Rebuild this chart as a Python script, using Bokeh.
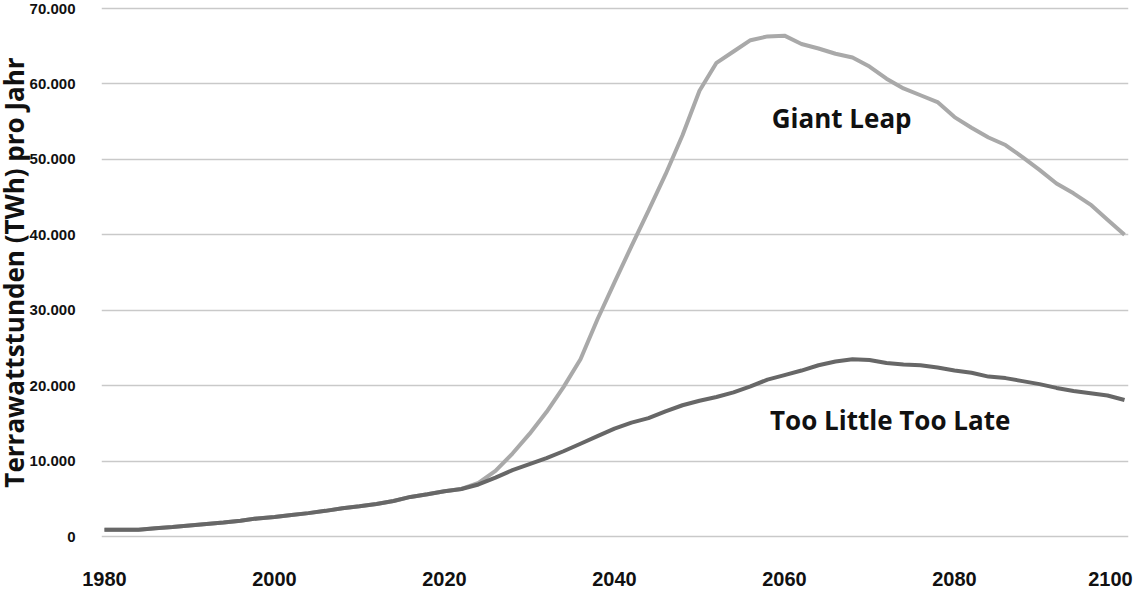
from bokeh.plotting import figure
from bokeh.models import FixedTicker, Label, Range1d, Title
from bokeh.embed import file_html
from bokeh.resources import INLINE

# ---- data ----
years = [1980, 1982, 1984, 1986, 1988, 1990, 1992, 1994, 1996, 1998,
         2000, 2002, 2004, 2006, 2008, 2010, 2012, 2014, 2016, 2018,
         2020, 2022, 2024, 2026, 2028, 2030, 2032, 2034, 2036, 2038,
         2040, 2042, 2044, 2046, 2048, 2050, 2052, 2054, 2056, 2058,
         2060, 2062, 2064, 2066, 2068, 2070, 2072, 2074, 2076, 2078,
         2080, 2082, 2084, 2086, 2088, 2090, 2092, 2094, 2096, 2098,
         2100]

too_little_too_late = [900, 900, 900, 1100, 1250, 1450, 1650, 1850, 2100, 2400,
                       2600, 2850, 3100, 3400, 3750, 4000, 4300, 4700, 5250, 5600,
                       6000, 6300, 6900, 7800, 8800, 9600, 10400, 11300, 12300, 13300,
                       14300, 15100, 15700, 16600, 17400, 18000, 18500, 19100, 19900, 20800,
                       21400, 22000, 22700, 23200, 23500, 23400, 23000, 22800, 22700, 22400,
                       22000, 21700, 21200, 21000, 20600, 20200, 19700, 19300, 19000, 18700,
                       18100]

giant_leap = [900, 900, 900, 1100, 1250, 1450, 1650, 1850, 2100, 2400,
              2600, 2850, 3100, 3400, 3750, 4000, 4300, 4700, 5250, 5600,
              6000, 6300, 7100, 8700, 11000, 13600, 16500, 19800, 23500, 28800,
              33700, 38500, 43200, 48000, 53200, 59100, 62800, 64300, 65800, 66300,
              66400, 65300, 64700, 64000, 63500, 62300, 60700, 59400, 58500, 57600,
              55600, 54200, 52900, 51900, 50300, 48600, 46800, 45500, 44000, 42000,
              40000]

y_ticks = [0, 10000, 20000, 30000, 40000, 50000, 60000, 70000]
y_tick_labels = ["0", "10.000", "20.000", "30.000", "40.000", "50.000", "60.000", "70.000"]
# the last label sits slightly left of its year so that it stays inside the page
x_ticks = [1980, 2000, 2020, 2040, 2060, 2080, 2098.35]
x_tick_labels = ["1980", "2000", "2020", "2040", "2060", "2080", "2100"]

series_labels = ["Giant Leap", "Too Little Too Late"]
y_title = "Terrawattstunden (TWh) pro Jahr"

# ---- figure ----
p = figure(width=1133, height=589, output_backend="svg", toolbar_location=None,
           x_range=Range1d(1979.65, 2100.47), y_range=Range1d(-265, 70265),
           min_border_left=101, min_border_right=5, min_border_top=6, min_border_bottom=51)
p.outline_line_color = None
p.background_fill_color = "white"
p.border_fill_color = "white"

p.xgrid.grid_line_color = None
p.ygrid.grid_line_color = "#c9c9c9"
p.ygrid.grid_line_width = 1.5

p.yaxis.ticker = FixedTicker(ticks=y_ticks)
p.yaxis.major_label_overrides = {t: l for t, l in zip(y_ticks, y_tick_labels)}
p.xaxis.ticker = FixedTicker(ticks=x_ticks)
p.xaxis.major_label_overrides = {t: l for t, l in zip(x_ticks, x_tick_labels)}

for ax in (p.xaxis[0], p.yaxis[0]):
    ax.axis_line_color = None
    ax.major_tick_line_color = None
    ax.minor_tick_line_color = None
    ax.major_tick_out = 0
    ax.major_tick_in = 0
    ax.major_label_text_font = "Liberation Sans"
    ax.major_label_text_font_style = "bold"
    ax.major_label_text_color = "#111111"

p.yaxis.major_label_text_font_size = "15px"
p.yaxis.major_label_standoff = 26
p.xaxis.major_label_text_font_size = "20px"
p.xaxis.major_label_standoff = 33

# y-axis title as a separate panel on the left, hugging the page edge
p.add_layout(Title(text=y_title, align="center", vertical_align="top", text_font="Open Sans",
                   text_font_style="bold", text_font_size="26px", text_color="#111111",
                   standoff=-15, offset=0), "left")

# ---- lines ----
p.line(years, giant_leap, line_color="#a9a9a9", line_width=4)
p.line(years, too_little_too_late, line_color="#676767", line_width=4)

# ---- annotations ----
p.add_layout(Label(x=2058.5, y=55450, text=series_labels[0], text_font="Open Sans",
                   text_font_style="bold", text_font_size="26px", text_color="#111111",
                   text_baseline="alphabetic", text_align="left"))
p.add_layout(Label(x=2058.3, y=15400, text=series_labels[1], text_font="Open Sans",
                   text_font_style="bold", text_font_size="26px", text_color="#111111",
                   text_baseline="alphabetic", text_align="left"))

open("out.html", "w").write(file_html(p, INLINE))
